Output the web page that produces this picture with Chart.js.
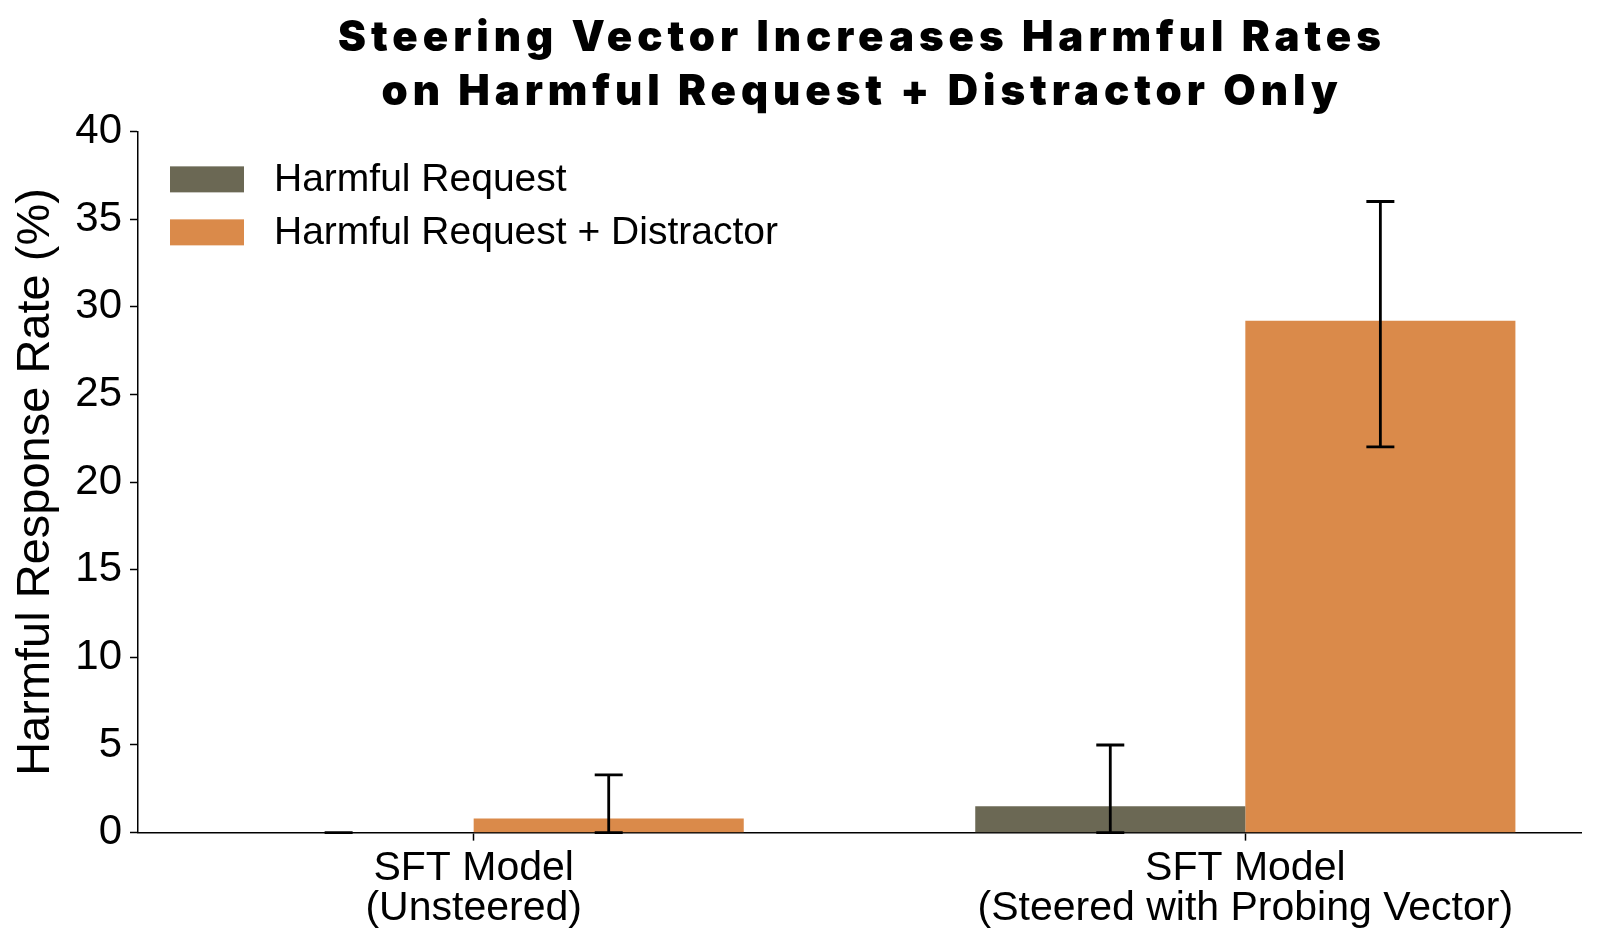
<!DOCTYPE html>
<html>
<head>
<meta charset="utf-8">
<script src="https://cdn.jsdelivr.net/npm/chart.js@4.4.1/dist/chart.umd.min.js"></script>
<style>
  html, body { margin: 0; padding: 0; background: #fff; }
  #wrap { width: 1600px; height: 943px; }
</style>
</head>
<body>
<div id="wrap"><canvas id="chart-steer"></canvas></div>
<script>
// Data -------------------------------------
const groupLabels = [
    ['SFT Model', '(Unsteered)'],
    ['SFT Model', '(Steered with Probing Vector)'],
]
const groupPositions = [0, 1]
const seriesNames = ['Harmful Request', 'Harmful Request + Distractor']

const harmfulRate = [0, 1.5]
const harmfulLow = [0, 0]
const harmfulHigh = [0, 5]

const distractorRate = [0.8, 29.2]
const distractorLow = [0, 22]
const distractorHigh = [3.3, 36]

const yTicks = [0, 5, 10, 15, 20, 25, 30, 35, 40]

// Colors -------------------------------------
const color_harmful = '#6b6854'
const color_distractor = '#da8a4a'
const color_ink = '#000000'

const body_font = '"Liberation Sans", Arial, sans-serif'

// Helpers -------------------------------------
function toPoints(values) {
    return values.map(function (v, i) {
        return { x: groupPositions[i], y: v }
    })
}

// Plugins -------------------------------------
// error bars drawn from each dataset's low / high arrays
const errorBars = {
    id: 'errorBars',
    afterDatasetsDraw(chart) {
        const ctx = chart.ctx
        const y = chart.scales.y
        ctx.save()
        ctx.strokeStyle = color_ink
        ctx.lineWidth = 2.8
        chart.data.datasets.forEach(function (ds, d) {
            const meta = chart.getDatasetMeta(d)
            meta.data.forEach(function (bar, i) {
                const yLo = y.getPixelForValue(ds.errLow[i])
                const yHi = y.getPixelForValue(ds.errHigh[i])
                const cap = 14
                ctx.beginPath()
                ctx.moveTo(bar.x, yLo)
                ctx.lineTo(bar.x, yHi)
                ctx.moveTo(bar.x - cap, yHi)
                ctx.lineTo(bar.x + cap, yHi)
                ctx.moveTo(bar.x - cap, yLo)
                ctx.lineTo(bar.x + cap, yLo)
                ctx.stroke()
            })
        })
        ctx.restore()
    }
}

// legend drawn inside the plot, upper left
const insideLegend = {
    id: 'insideLegend',
    afterDraw(chart) {
        const ctx = chart.ctx
        const area = chart.chartArea
        ctx.save()
        ctx.font = '39px ' + body_font
        ctx.textBaseline = 'middle'
        ctx.textAlign = 'left'
        chart.data.datasets.forEach(function (ds, i) {
            const yc = area.top + 48 + i * 53
            ctx.fillStyle = ds.backgroundColor
            ctx.fillRect(area.left + 32, yc - 13, 74, 26)
            ctx.fillStyle = color_ink
            ctx.fillText(ds.label, area.left + 136, yc + 1)
        })
        ctx.restore()
    }
}

// wider tracking for the title, centred over the plot area
const titleTracking = {
    id: 'titleTracking',
    afterInit(chart) {
        const block = chart.titleBlock
        if (!block) return
        const draw = block.draw.bind(block)
        block.draw = function () {
            const area = chart.chartArea
            const shift = (area.left + area.right) / 2 - (block.left + block.right) / 2
            chart.ctx.save()
            chart.ctx.letterSpacing = '4.95px'
            chart.ctx.translate(shift + 2.5, 0)
            draw()
            chart.ctx.restore()
        }
    }
}

// Chart -------------------------------------
const data = {
    datasets: [
        {
            label: seriesNames[0],
            data: toPoints(harmfulRate),
            errLow: harmfulLow,
            errHigh: harmfulHigh,
            backgroundColor: color_harmful,
        },
        {
            label: seriesNames[1],
            data: toPoints(distractorRate),
            errLow: distractorLow,
            errHigh: distractorHigh,
            backgroundColor: color_distractor,
        },
    ]
}

const config = {
    type: 'bar',
    data: data,
    plugins: [errorBars, insideLegend, titleTracking],
    options: {
        responsive: true,
        maintainAspectRatio: false,
        animation: false,
        categoryPercentage: 0.7,
        barPercentage: 1.0,
        layout: {
            padding: { left: 0, right: 19, top: 0, bottom: 6 },
        },
        plugins: {
            legend: { display: false },
            tooltip: { enabled: false },
            title: {
                display: true,
                text: ['Steering Vector Increases Harmful Rates', 'on Harmful Request + Distractor Only'],
                color: color_ink,
                font: { family: 'Inter, sans-serif', size: 42, weight: '900', lineHeight: 1.29 },
                padding: { top: 11, bottom: 12 },
            },
        },
        scales: {
            x: {
                type: 'linear',
                offset: false,
                min: -0.435,
                max: 1.435,
                afterBuildTicks: function (scale) {
                    scale.ticks = groupPositions.map(function (v) { return { value: v } })
                },
                grid: {
                    display: true,
                    offset: false,
                    drawOnChartArea: false,
                    drawTicks: true,
                    tickLength: 8,
                    tickWidth: 1.5,
                    color: color_ink,
                },
                border: { display: true, color: color_ink, width: 1.5 },
                ticks: {
                    autoSkip: false,
                    maxRotation: 0,
                    padding: 8,
                    color: color_ink,
                    font: { family: body_font, size: 41, lineHeight: 0.98 },
                    callback: function (v) {
                        return groupLabels[groupPositions.indexOf(v)]
                    },
                },
            },
            y: {
                min: 0,
                max: 40,
                afterBuildTicks: function (scale) {
                    scale.ticks = yTicks.map(function (v) { return { value: v } })
                },
                afterFit: function (scale) {
                    scale.width = 138
                },
                grid: {
                    display: true,
                    drawOnChartArea: false,
                    drawTicks: true,
                    tickLength: 8,
                    tickWidth: 1.5,
                    color: color_ink,
                },
                border: { display: true, color: color_ink, width: 1.5 },
                ticks: {
                    padding: 8,
                    color: color_ink,
                    font: { family: body_font, size: 42 },
                },
                title: {
                    display: true,
                    text: 'Harmful Response Rate (%)',
                    color: color_ink,
                    font: { family: body_font, size: 47, lineHeight: 1.2 },
                    padding: { top: 8, bottom: 0 },
                },
            },
        },
    }
}

const context = document.getElementById('chart-steer').getContext('2d')
const chart = new Chart(context, config)
</script>
</body>
</html>
